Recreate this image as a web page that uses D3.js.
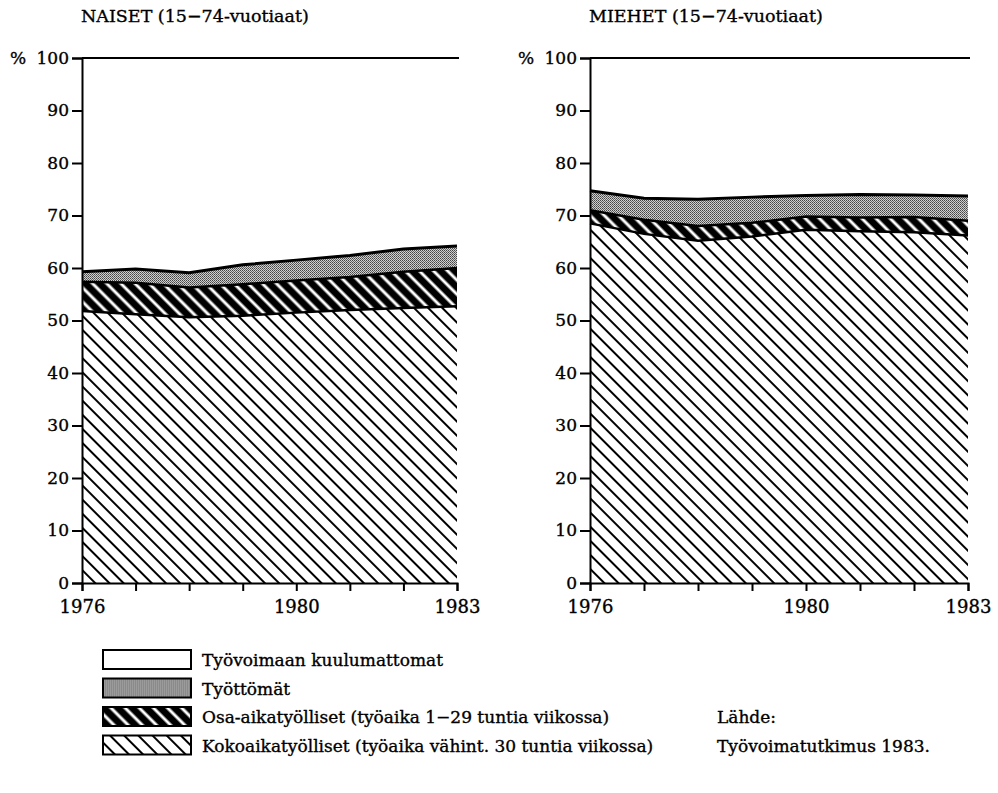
<!DOCTYPE html>
<html>
<head>
<meta charset="utf-8">
<script src="https://cdn.jsdelivr.net/npm/d3@7"></script>
<style>
  body { margin: 0; background: #fff; }
  text { font-family: 'DejaVu Serif', 'Liberation Serif', serif; fill: #000; stroke: #000; stroke-width: 0.35px; }
</style>
</head>
<body>
<svg width="998" height="793"></svg>
<script>
var years = [1976, 1977, 1978, 1979, 1980, 1981, 1982, 1983];
var yearLabels = [1976, 1980, 1983];
var yTicks = [0, 10, 20, 30, 40, 50, 60, 70, 80, 90, 100];

// naiset, % of 15-74 year olds
var naisetKoko = [51.8, 51.2, 50.6, 50.9, 51.5, 52.0, 52.4, 52.7];
var naisetOsa = [5.6, 6.0, 5.7, 6.0, 6.1, 6.3, 6.9, 7.3];
var naisetTyottomat = [1.9, 2.6, 2.8, 3.7, 3.9, 4.1, 4.3, 4.2];

// miehet
var miehetKoko = [68.5, 66.5, 65.2, 66.0, 67.3, 67.0, 66.8, 66.2];
var miehetOsa = [2.5, 2.7, 2.8, 2.6, 2.5, 2.6, 2.9, 2.8];
var miehetTyottomat = [3.7, 4.1, 5.1, 4.9, 4.0, 4.4, 4.2, 4.7];

var legendLabels = [
  'Työvoimaan kuulumattomat',
  'Työttömät',
  'Osa-aikatyölliset (työaika 1\u221229 tuntia viikossa)',
  'Kokoaikatyölliset (työaika vähint. 30 tuntia viikossa)'
];

var svg = d3.select('svg');
var defs = svg.append('defs');

// light hatch: thin black "\" lines on white
var pLight = defs
  .append('pattern')
  .attr('id', 'hatchLight')
  .attr('patternUnits', 'userSpaceOnUse')
  .attr('width', 10)
  .attr('height', 10)
  .attr('patternTransform', 'rotate(-45)');
pLight.append('rect').attr('width', 10).attr('height', 10).attr('fill', '#fff');
pLight.append('line').attr('x1', 5).attr('x2', 5).attr('y1', 0).attr('y2', 10)
  .attr('stroke', '#000').attr('stroke-width', 2);

// dark hatch: white "\" lines on black
var pDark = defs
  .append('pattern')
  .attr('id', 'hatchDark')
  .attr('patternUnits', 'userSpaceOnUse')
  .attr('width', 10)
  .attr('height', 10)
  .attr('patternTransform', 'rotate(-45)');
pDark.append('rect').attr('width', 10).attr('height', 10).attr('fill', '#000');
pDark.append('line').attr('x1', 5).attr('x2', 5).attr('y1', 0).attr('y2', 10)
  .attr('stroke', '#fff').attr('stroke-width', 3);

// stipple grey
var pDots = defs
  .append('pattern')
  .attr('id', 'stipple')
  .attr('patternUnits', 'userSpaceOnUse')
  .attr('width', 2)
  .attr('height', 2);
pDots.append('rect').attr('width', 2).attr('height', 2).attr('fill', '#d0d0d0');
pDots.append('rect').attr('width', 1).attr('height', 1).attr('fill', '#444');
pDots.append('rect').attr('x', 1).attr('y', 1).attr('width', 1).attr('height', 1).attr('fill', '#666');

var fills = ['url(#hatchLight)', 'url(#hatchDark)', 'url(#stipple)'];

function drawPanel(title, x0, x1, koko, osa, tyottomat) {
  var rows = years.map(function(yr, i) {
    return { year: yr, koko: koko[i], osa: osa[i], tyottomat: tyottomat[i] };
  });

  var x = d3.scaleLinear().domain([1976, 1983]).range([x0, x1]);
  var y = d3.scaleLinear().domain([0, 100]).range([583, 58]);

  var series = d3.stack().keys(['koko', 'osa', 'tyottomat'])(rows);

  var g = svg.append('g');

  var area = d3
    .area()
    .x(function(d) { return x(d.data.year); })
    .y0(function(d) { return y(d[0]); })
    .y1(function(d) { return y(d[1]); });

  g.selectAll('path.layer')
    .data(series)
    .enter()
    .append('path')
    .attr('class', 'layer')
    .attr('d', area)
    .attr('fill', function(d, i) { return fills[i]; });

  var edge = d3
    .line()
    .x(function(d) { return x(d.data.year); })
    .y(function(d) { return y(d[1]); });

  g.selectAll('path.edge')
    .data(series)
    .enter()
    .append('path')
    .attr('class', 'edge')
    .attr('d', edge)
    .attr('fill', 'none')
    .attr('stroke', '#000')
    .attr('stroke-width', function(d, i) { return i === 2 ? 3 : 2.5; });

  // line at 100 %
  g.append('line')
    .attr('x1', x0).attr('x2', x1 + 2)
    .attr('y1', y(100)).attr('y2', y(100))
    .attr('stroke', '#000').attr('stroke-width', 2);

  var yAxis = g
    .append('g')
    .attr('transform', 'translate(' + x0 + ',0)')
    .call(d3.axisLeft(y).tickValues(yTicks).tickSize(10).tickPadding(3));
  yAxis.select('.domain').attr('stroke-width', 2);
  yAxis.selectAll('.tick line').attr('stroke-width', 2);
  yAxis.selectAll('text').attr('font-size', 17).attr('font-family', null);

  var xAxis = g
    .append('g')
    .attr('transform', 'translate(0,' + y(0) + ')')
    .call(
      d3
        .axisBottom(x)
        .tickValues(years)
        .tickSize(8)
        .tickPadding(9)
        .tickFormat(function(d) { return yearLabels.indexOf(d) >= 0 ? d : ''; })
    );
  xAxis.select('.domain').attr('stroke-width', 2);
  xAxis.selectAll('.tick line').attr('stroke-width', 2);
  xAxis.selectAll('text').attr('font-size', 18).attr('font-family', null);

  g.append('text')
    .attr('x', x0 - 72)
    .attr('y', y(100) + 6)
    .attr('font-size', 17)
    .text('%');

  g.append('text')
    .attr('x', x0 - 1)
    .attr('y', 22)
    .attr('font-size', 17.5)
    .text(title);
}

drawPanel('NAISET (15\u221274-vuotiaat)', 82, 457, naisetKoko, naisetOsa, naisetTyottomat);
drawPanel('MIEHET (15\u221274-vuotiaat)', 590, 968, miehetKoko, miehetOsa, miehetTyottomat);

// legend
var legendFills = ['#fff', 'url(#stipple)', 'url(#hatchDark)', 'url(#hatchLight)'];
var legend = svg
  .append('g')
  .selectAll('g')
  .data(legendLabels)
  .enter()
  .append('g')
  .attr('transform', function(d, i) { return 'translate(103,' + (650 + i * 28.5) + ')'; });

legend
  .append('rect')
  .attr('width', 88)
  .attr('height', 19)
  .attr('fill', function(d, i) { return legendFills[i]; })
  .attr('stroke', '#000')
  .attr('stroke-width', 2);

legend
  .append('text')
  .attr('x', 99)
  .attr('y', 16)
  .attr('font-size', 17)
  .text(function(d) { return d; });

svg.append('text').attr('x', 717).attr('y', 723).attr('font-size', 17).text('Lähde:');
svg.append('text').attr('x', 717).attr('y', 752).attr('font-size', 17).text('Työvoimatutkimus 1983.');
</script>
</body>
</html>
